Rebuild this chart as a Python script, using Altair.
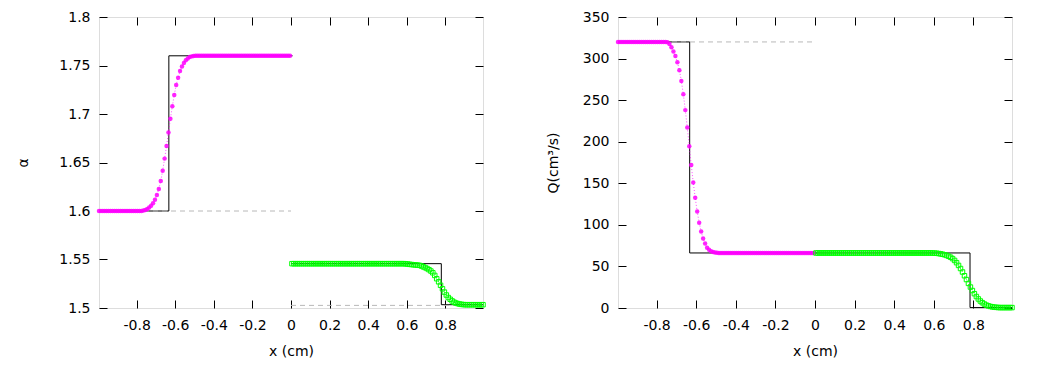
import altair as alt
import pandas as pd

# ---------------- data ----------------
x_left = [-0.995, -0.985, -0.975, -0.965, -0.955, -0.945, -0.935, -0.925, -0.915, -0.905,
          -0.895, -0.885, -0.875, -0.865, -0.855, -0.845, -0.835, -0.825, -0.815, -0.805,
          -0.795, -0.785, -0.775, -0.765, -0.755, -0.745, -0.735, -0.725, -0.715, -0.705,
          -0.695, -0.685, -0.675, -0.665, -0.655, -0.645, -0.635, -0.625, -0.615, -0.605,
          -0.595, -0.585, -0.575, -0.565, -0.555, -0.545, -0.535, -0.525, -0.515, -0.505,
          -0.495, -0.485, -0.475, -0.465, -0.455, -0.445, -0.435, -0.425, -0.415, -0.405,
          -0.395, -0.385, -0.375, -0.365, -0.355, -0.345, -0.335, -0.325, -0.315, -0.305,
          -0.295, -0.285, -0.275, -0.265, -0.255, -0.245, -0.235, -0.225, -0.215, -0.205,
          -0.195, -0.185, -0.175, -0.165, -0.155, -0.145, -0.135, -0.125, -0.115, -0.105,
          -0.095, -0.085, -0.075, -0.065, -0.055, -0.045, -0.035, -0.025, -0.015, -0.005]
x_right = [0.005, 0.015, 0.025, 0.035, 0.045, 0.055, 0.065, 0.075, 0.085, 0.095,
           0.105, 0.115, 0.125, 0.135, 0.145, 0.155, 0.165, 0.175, 0.185, 0.195,
           0.205, 0.215, 0.225, 0.235, 0.245, 0.255, 0.265, 0.275, 0.285, 0.295,
           0.305, 0.315, 0.325, 0.335, 0.345, 0.355, 0.365, 0.375, 0.385, 0.395,
           0.405, 0.415, 0.425, 0.435, 0.445, 0.455, 0.465, 0.475, 0.485, 0.495,
           0.505, 0.515, 0.525, 0.535, 0.545, 0.555, 0.565, 0.575, 0.585, 0.595,
           0.605, 0.615, 0.625, 0.635, 0.645, 0.655, 0.665, 0.675, 0.685, 0.695,
           0.705, 0.715, 0.725, 0.735, 0.745, 0.755, 0.765, 0.775, 0.785, 0.795,
           0.805, 0.815, 0.825, 0.835, 0.845, 0.855, 0.865, 0.875, 0.885, 0.895,
           0.905, 0.915, 0.925, 0.935, 0.945, 0.955, 0.965, 0.975, 0.985, 0.995]

alpha_left = ([1.6] * 23 +
              [1.6005, 1.601, 1.602, 1.6035, 1.6055, 1.608, 1.6115, 1.6165, 1.6227,
               1.631, 1.6415, 1.654, 1.667, 1.681, 1.695, 1.708, 1.7196, 1.730,
               1.7374, 1.7443, 1.749, 1.7526, 1.7553, 1.7573, 1.7587, 1.7594, 1.7598] +
              [1.76] * 50)
alpha_right = ([1.5457] * 59 +
               [1.5455, 1.5453, 1.545, 1.5448, 1.5446, 1.5444, 1.5442, 1.5440, 1.5434,
                1.5425, 1.5417, 1.5407, 1.5395, 1.5381, 1.5363, 1.5336, 1.5302, 1.5270,
                1.5234, 1.5198, 1.5164, 1.5134, 1.5108, 1.5090, 1.5073, 1.5060, 1.5051,
                1.5045, 1.5040, 1.5037, 1.5035] +
               [1.5034] * 10)
q_left = ([320] * 25 +
          [319.5, 317.5, 313.5, 308.5, 303, 295.5, 286, 273, 257, 238, 217, 194.5, 172,
           151, 132.5, 116, 102.5, 92, 83.5, 77.5, 72.5, 70, 68.2, 67.3, 66.8, 66.5] +
          [66.2] * 49)
q_right = ([66.2] * 59 +
           [66.1, 66.0, 65.8, 65.5, 65.1, 64.6, 64.0, 63.2, 62.2, 61.0, 59.4, 57.2, 54.5,
            51.2, 47.5, 43.3, 38.8, 34.2, 29.6, 25.2, 21.0, 17.2, 13.8, 10.9, 8.4, 6.4,
            4.8, 3.5, 2.6, 1.9, 1.4, 1.0, 0.8, 0.6] +
           [0.5] * 7)

# exact (black) solution, one path per side
alpha_exact_x = [-0.995, -0.633, -0.633, 0.008, 0.0, 0.779, 0.779, 0.995]
alpha_exact_y = [1.6, 1.6, 1.76, 1.76, 1.5457, 1.5457, 1.5034, 1.5034]
q_exact_x = [-0.995, -0.633, -0.633, 0.008, 0.0, 0.783, 0.783, 0.995]
q_exact_y = [320, 320, 66.2, 66.2, 66.2, 66.2, 0.5, 0.5]
exact_seg = ["L", "L", "L", "L", "R", "R", "R", "R"]

# initial state (grey dashed)
alpha_init_x = [-0.995, 0.0, 0.0, 0.995]
alpha_init_y = [1.6, 1.6, 1.5027, 1.5027]
alpha_init_seg = ["L", "L", "R", "R"]
q_init_x = [-0.995, 0.0]
q_init_y = [320, 320]
q_init_seg = ["L", "L"]

x_ticks = [-0.8, -0.6, -0.4, -0.2, 0, 0.2, 0.4, 0.6, 0.8]
alpha_ticks = [1.5, 1.55, 1.6, 1.65, 1.7, 1.75, 1.8]
q_ticks = [0, 50, 100, 150, 200, 250, 300, 350]

FONT = "DejaVu Sans"
FS = 14
TICK = 8
H = 291


def panel(yl, yr, ex_x, ex_y, in_x, in_y, in_seg, ydom, yticks, ytitle, w, ytp):
    xs = alt.Scale(domain=[-0.995, 0.995], nice=False, zero=False)
    ys = alt.Scale(domain=ydom, nice=False, zero=False)
    common = dict(offset=-TICK, tickSize=TICK, domain=False, grid=False,
                  tickColor="black", tickWidth=1, labelFont=FONT, labelFontSize=FS,
                  labelColor="black", titleFont=FONT, titleFontSize=FS,
                  titleFontWeight="normal", titleColor="black", labelOverlap=False,
                  labelFlush=False, labelExpr="toString(datum.value)")
    ax_bottom = alt.Axis(orient="bottom", values=x_ticks, title="x (cm)",
                         labelPadding=10, titlePadding=12, **common)
    ax_top = alt.Axis(orient="top", values=x_ticks, title=None, labels=False, **common)
    ax_left = alt.Axis(orient="left", values=yticks, title=ytitle,
                       labelPadding=9, titlePadding=ytp, **common)
    ax_right = alt.Axis(orient="right", values=yticks, title=None, labels=False, **common)

    def X(ax=None):
        return alt.X("x:Q", scale=xs, axis=ax)

    def Y(ax=None):
        return alt.Y("y:Q", scale=ys, axis=ax)

    df_ex = pd.DataFrame({"x": ex_x, "y": ex_y, "seg": exact_seg, "o": list(range(len(ex_x)))})
    df_in = pd.DataFrame({"x": in_x, "y": in_y, "seg": in_seg, "o": list(range(len(in_x)))})
    df_l = pd.DataFrame({"x": x_left, "y": yl})
    df_r = pd.DataFrame({"x": x_right, "y": yr})

    exact = alt.Chart(df_ex).mark_line(color="black", strokeWidth=1).encode(
        x=X(ax_bottom), y=Y(ax_left), detail="seg:N", order="o:Q")
    init = alt.Chart(df_in).mark_line(color="#b8b8b8", strokeWidth=1, strokeDash=[5, 4]).encode(
        x=X(ax_top), y=Y(ax_right), detail="seg:N", order="o:Q")
    mline = alt.Chart(df_l).mark_line(color="#ff00ff", strokeWidth=1, strokeDash=[1, 2],
                                      opacity=0.7).encode(x=X(), y=Y())
    mpts = alt.Chart(df_l).mark_point(shape="circle", filled=True, size=20, color="#ff00ff",
                                      opacity=0.85).encode(x=X(), y=Y())
    gline = alt.Chart(df_r).mark_line(color="#00ff00", strokeWidth=1, strokeDash=[1, 2]).encode(
        x=X(), y=Y())
    gpts = alt.Chart(df_r).mark_point(shape="square", filled=False, size=20, color="#00ff00",
                                      strokeWidth=1, opacity=1).encode(x=X(), y=Y())
    return alt.layer(exact, init, mline, mpts, gline, gpts).resolve_axis(
        x="independent", y="independent").properties(width=w, height=H)


left = panel(alpha_left, alpha_right, alpha_exact_x, alpha_exact_y, alpha_init_x,
             alpha_init_y, alpha_init_seg, [1.5, 1.8], alpha_ticks, "α", 384, 28)
right = panel(q_left, q_right, q_exact_x, q_exact_y, q_init_x, q_init_y, q_init_seg,
              [0, 350], q_ticks, "Q(cm³/s)", 394, 22)

chart = alt.hconcat(left, right, spacing=57).properties(
    padding={"left": 8, "top": 1, "right": 0, "bottom": 0}
).configure_view(stroke="black", strokeWidth=1).configure(font=FONT)

chart.save("out.html", embed_options={"renderer": "svg", "actions": False})
